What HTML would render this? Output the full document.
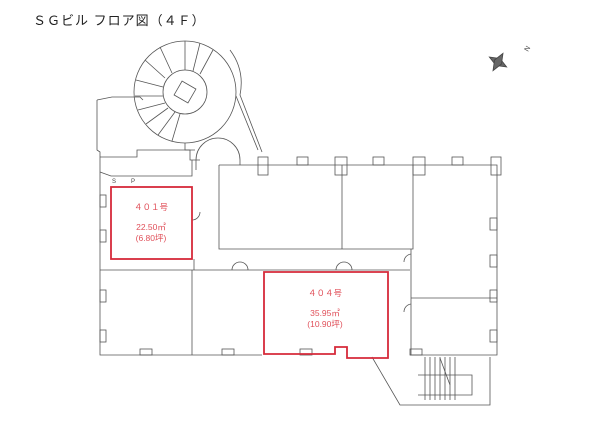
<!DOCTYPE html>
<html><head><meta charset="utf-8"><style>
html,body{margin:0;padding:0;background:#fff;width:600px;height:425px;overflow:hidden}
svg{display:block}
text{font-family:"Liberation Sans","Noto Sans CJK JP",sans-serif}
</style></head><body>
<svg width="600" height="425" viewBox="0 0 600 425" xmlns="http://www.w3.org/2000/svg">
<text x="33" y="25" font-size="13" fill="#222" letter-spacing="1">ＳＧビル フロア図（４Ｆ）</text>
<g stroke="#444" stroke-width="0.8" fill="#666">
<polygon points="498,52 502,62 498,72 494,62" transform="rotate(-60 498 62)"/>
<polygon points="488,62 498,58 508,62 498,66" transform="rotate(-60 498 62)"/>
</g>
<text x="528" y="52" font-size="7" fill="#444" transform="rotate(-60 528 52)">N</text>
<g fill="none" stroke="#555" stroke-width="0.8">
<path d="M97,100 L97,150 L100,152 L100,355 L262,355"/>
<path d="M97,100 L112,97 L140,97 L143,100"/>
<path d="M100,157 L137,157 L137,150 L152,150 L190,150 L190,160 L200,160"/>
<path d="M100,172 L111,176 L192,176 L192,160"/>
<circle cx="185" cy="92" r="51"/>
<circle cx="185" cy="92" r="22"/>
<rect x="177" y="84" width="16" height="16" transform="rotate(30 185 92)"/>
<path d="M185,41 L185,70 M200,43 L193,71 M213,50 L200,74 M160,47 L172,73 M145,60 L165,78 M136,80 L163,87 M135,96 L163,96 M138,110 L165,103 M146,124 L168,108 M158,135 L175,112 M172,141 L180,114"/>
<path d="M230,50 Q245,70 240,95 L262,152 M236,96 L258,150"/>
<path d="M185,143 L185,150 L195,150"/>
<path d="M196,170 L196,160 A22,22 0 0 1 240,160 L240,165"/>
<path d="M219,165 L497,165 L497,355 L410,355"/>
<path d="M219,165 L219,249 L413,249 L413,165"/>
<path d="M342,165 L342,249 M411,249 L411,355 M411,298 L497,298 M100,270 L264,270 M192,270 L192,355 M410,270 L264,270"/>
<path d="M194,259 L194,270"/>
<g>
<rect x="258" y="157" width="10" height="18"/><rect x="335" y="157" width="12" height="18"/>
<rect x="413" y="157" width="12" height="18"/><rect x="491" y="157" width="10" height="18"/>
<rect x="297" y="157" width="11" height="8"/><rect x="373" y="157" width="11" height="8"/><rect x="452" y="157" width="11" height="8"/>
<rect x="100" y="195" width="6" height="12"/><rect x="100" y="230" width="6" height="12"/>
<rect x="100" y="290" width="6" height="12"/><rect x="100" y="330" width="6" height="12"/>
<rect x="490" y="218" width="7" height="12"/><rect x="490" y="255" width="7" height="12"/>
<rect x="490" y="290" width="7" height="12"/><rect x="490" y="330" width="7" height="12"/>
<rect x="140" y="349" width="12" height="6"/>
<rect x="222" y="349" width="12" height="6"/><rect x="300" y="349" width="12" height="6"/>
<rect x="410" y="349" width="12" height="6"/>
</g>
<path d="M232,270 A8,8 0 0 1 240,262 M248,270 A8,8 0 0 0 240,262 M336,270 A8,8 0 0 1 344,262 M352,270 A8,8 0 0 0 344,262 M200,212 A8,8 0 0 1 192,220 M404,262 A8,8 0 0 1 411,254 M404,312 A8,8 0 0 1 411,304"/>
<path d="M372,357 L400,405 L490,405 L490,357"/>
<path d="M425,357 L425,400 M430,357 L430,400 M435,357 L435,400 M440,357 L440,400 M445,357 L445,400 M450,357 L450,400 M455,357 L455,400 M418,375 L472,375 L472,395 L418,395"/>
<path d="M440,358 L450,385"/>
</g>
<text x="112" y="183" font-size="6" fill="#444">S</text><text x="131" y="183" font-size="6" fill="#444">P</text>
<g fill="none" stroke="#d62a3a" stroke-width="1.8">
<rect x="111" y="187" width="81" height="72"/>
<path d="M264,272 L388,272 L388,358 L347,358 L347,347 L335,347 L335,354 L264,354 Z"/>
</g>
<g fill="#e0505a" font-size="8.5" text-anchor="middle">
<text x="151" y="210">４０１号</text>
<text x="151" y="230">22.50㎡</text>
<text x="151" y="241">(6.80坪)</text>
<text x="325" y="296">４０４号</text>
<text x="325" y="316">35.95㎡</text>
<text x="325" y="327">(10.90坪)</text>
</g>
</svg>
</body></html>
